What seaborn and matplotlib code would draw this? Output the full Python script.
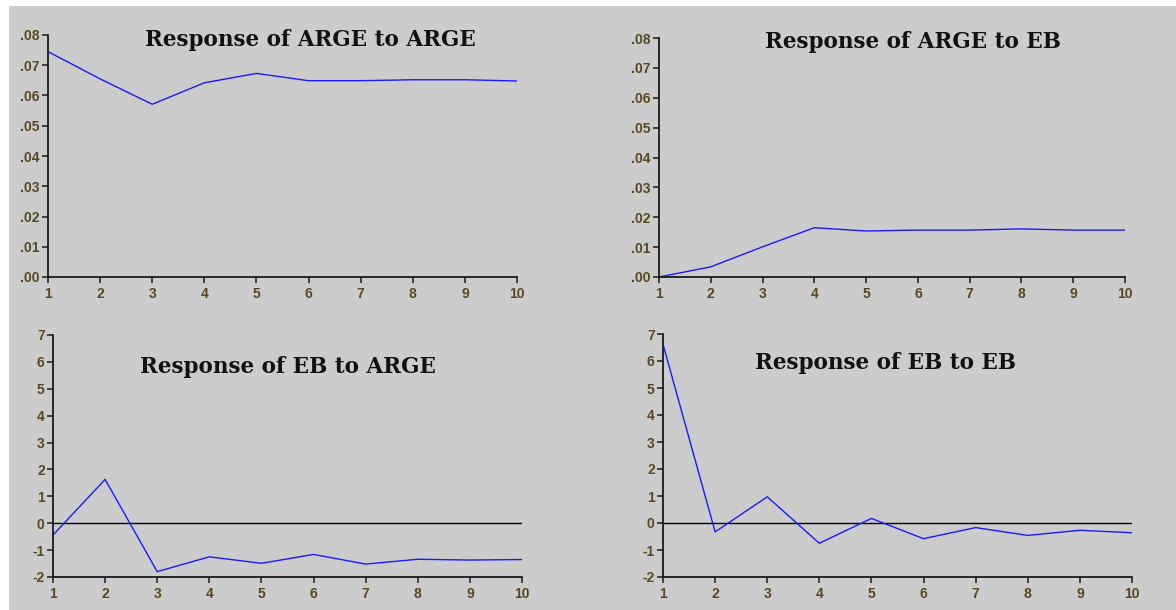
import matplotlib
matplotlib.use("Agg")
import matplotlib.pyplot as plt
from matplotlib.patches import Rectangle
from matplotlib.ticker import FuncFormatter, MultipleLocator
import numpy as np
import pandas as pd
import seaborn as sns

# Impulse-response horizons
periods = [1, 2, 3, 4, 5, 6, 7, 8, 9, 10]

# Responses (Cholesky one S.D. innovations)
arge_to_arge = [0.0745, 0.0655, 0.0571, 0.0642, 0.0673, 0.0649, 0.0649, 0.0652, 0.0652, 0.0648]
arge_to_eb = [0.0000, 0.0034, 0.0101, 0.0165, 0.0154, 0.0157, 0.0157, 0.0161, 0.0157, 0.0157]
eb_to_arge = [-0.44, 1.63, -1.80, -1.25, -1.49, -1.16, -1.52, -1.34, -1.37, -1.35]
eb_to_eb = [6.62, -0.33, 0.97, -0.75, 0.17, -0.58, -0.17, -0.46, -0.27, -0.36]

titles = ["Response of ARGE to ARGE", "Response of ARGE to EB",
          "Response of EB to ARGE", "Response of EB to EB"]

sns.set_theme(style="ticks")
plt.rcParams["font.family"] = ["Liberation Sans", "DejaVu Sans"]

W, H = 1176, 610
BG = "#cccccc"
TICK_COLOR = "#574820"

fig = plt.figure(figsize=(W / 100, H / 100), dpi=100, facecolor="white")
fig.patches.append(Rectangle((9 / W, 0), 1 - 9 / W, 1 - 6 / H,
                             transform=fig.transFigure, facecolor=BG,
                             edgecolor="none", zorder=-10))


def px_axes(left, right, top, bottom):
    return fig.add_axes([left / W, 1 - bottom / H, (right - left) / W, (bottom - top) / H])


panels = [
    dict(box=(48, 517, 35, 277), data=arge_to_arge, ylim=(0, 0.08), step=0.01, pct=True,
         title_xy=(145, 40), zero=False),
    dict(box=(659, 1125, 38, 277), data=arge_to_eb, ylim=(0, 0.08), step=0.01, pct=True,
         title_xy=(765, 42), zero=False),
    dict(box=(53, 522, 335, 577), data=eb_to_arge, ylim=(-2, 7), step=1, pct=False,
         title_xy=(140, 367), zero=True),
    dict(box=(663, 1132, 334, 577), data=eb_to_eb, ylim=(-2, 7), step=1, pct=False,
         title_xy=(755, 363), zero=True),
]

dot_fmt = FuncFormatter(lambda v, _: ("%.2f" % v)[1:] if v >= 0 else "%.2f" % v)
int_fmt = FuncFormatter(lambda v, _: "%d" % round(v))

for p, title in zip(panels, titles):
    ax = px_axes(*p["box"])
    ax.set_facecolor("none")
    df = pd.DataFrame({"period": periods, "response": p["data"]})
    if p["zero"]:
        ax.plot([periods[0], periods[-1]], [0, 0], color="black", lw=1.0, zorder=1)
    sns.lineplot(data=df, x="period", y="response", ax=ax, color="#1a1aff",
                 lw=1.0, zorder=2)
    ax.set_xlim(periods[0], periods[-1])
    ax.set_ylim(*p["ylim"])
    ax.xaxis.set_major_locator(MultipleLocator(1))
    ax.yaxis.set_major_locator(MultipleLocator(p["step"]))
    ax.xaxis.set_major_formatter(int_fmt)
    ax.yaxis.set_major_formatter(dot_fmt if p["pct"] else int_fmt)
    ax.set_xlabel("")
    ax.set_ylabel("")
    for side in ("top", "right"):
        ax.spines[side].set_visible(False)
    for side in ("left", "bottom"):
        ax.spines[side].set_color("#1a1a1a")
        ax.spines[side].set_linewidth(1.3)
    ax.tick_params(axis="both", direction="out", length=4, width=1.1, color="#1a1a1a",
                   labelsize=10, labelcolor=TICK_COLOR, pad=2)
    ax.tick_params(axis="x", pad=3)
    for lab in ax.get_xticklabels() + ax.get_yticklabels():
        lab.set_fontweight("bold")
    tx, ty = p["title_xy"]
    fig.text(tx / W, 1 - ty / H, title, ha="left", va="center",
             family=["DejaVu Serif"], fontweight="bold", fontsize=15.5, color="#111111")

fig.savefig("out.png", dpi=100, facecolor=fig.get_facecolor())
